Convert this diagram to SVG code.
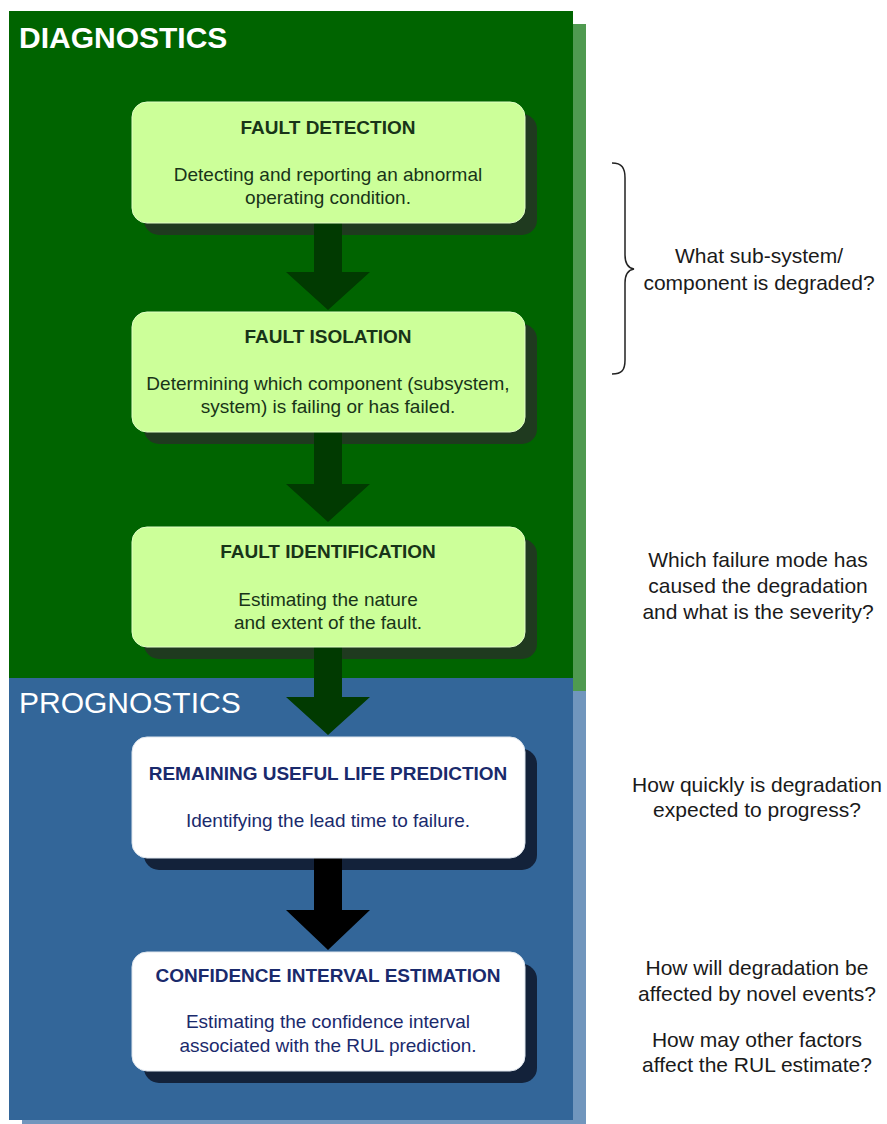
<svg xmlns="http://www.w3.org/2000/svg" width="887" height="1124" viewBox="0 0 887 1124">
<style>
.t{font-family:"Liberation Sans",Arial,sans-serif;text-anchor:middle}
.gt{fill:#183418;font-size:19px}
.bt{fill:#1a2a6c;font-size:19px}
.b{font-weight:bold}
.side{font-family:"Liberation Sans",Arial,sans-serif;text-anchor:middle;font-size:21px;fill:#1a1a1a}
.gbox{fill:#ccff99;stroke:#e2ffc6;stroke-width:1}
.gsh{fill:#1f3a1f}
.wbox{fill:#ffffff;stroke:#dfe6ee;stroke-width:1}
.bsh{fill:#13223a}
.ga{fill:#013a01}
.ka{fill:#000000}
</style>
<rect width="887" height="1124" fill="#ffffff"/>
<g id="panels">
<rect x="22" y="24" width="564" height="667" fill="#4f9a50"/>
<rect x="22" y="691" width="564" height="442" fill="#7196bd"/>
<rect x="9" y="11" width="564" height="667" fill="#006400"/>
<rect x="9" y="678" width="564" height="442" fill="#336699"/>
<text x="19" y="48" font-family="Liberation Sans,Arial,sans-serif" font-size="30" font-weight="bold" fill="#ffffff">DIAGNOSTICS</text>
<text x="19" y="713" font-family="Liberation Sans,Arial,sans-serif" font-size="30" fill="#ffffff">PROGNOSTICS</text>
</g>
<g id="shadows">
<rect class="gsh" x="144" y="114" width="393" height="121" rx="15"/>
<rect class="gsh" x="144" y="324" width="393" height="120" rx="15"/>
<rect class="gsh" x="144" y="539" width="393" height="120" rx="15"/>
<rect class="bsh" x="144" y="749" width="393" height="121" rx="15"/>
<rect class="bsh" x="144" y="964" width="393" height="119" rx="15"/>
</g>
<g id="connectors">
<path class="ga" d="M314,222 H342 V272 H370 L328,310 L286,272 H314 Z"/>
<path class="ga" d="M314,432 H342 V484 H370 L328,522 L286,484 H314 Z"/>
<path class="ga" d="M314,647 H342 V697 H370 L328,735 L286,697 H314 Z"/>
<path class="ka" d="M314,858 H342 V910 H370 L328,950 L286,910 H314 Z"/>
</g>
<g id="fault-detection">
<rect class="gbox" x="132" y="102" width="393" height="121" rx="15"/>
<text class="t gt b" x="328" y="134">FAULT DETECTION</text>
<text class="t gt" x="328" y="181">Detecting and reporting an abnormal</text>
<text class="t gt" x="328" y="204">operating condition.</text>
</g>
<g id="fault-isolation">
<rect class="gbox" x="132" y="312" width="393" height="120" rx="15"/>
<text class="t gt b" x="328" y="343">FAULT ISOLATION</text>
<text class="t gt" x="328" y="390">Determining which component (subsystem,</text>
<text class="t gt" x="328" y="413">system) is failing or has failed.</text>
</g>
<g id="fault-identification">
<rect class="gbox" x="132" y="527" width="393" height="120" rx="15"/>
<text class="t gt b" x="328" y="558">FAULT IDENTIFICATION</text>
<text class="t gt" x="328" y="606">Estimating the nature</text>
<text class="t gt" x="328" y="629">and extent of the fault.</text>
</g>
<g id="rul-prediction">
<rect class="wbox" x="132" y="737" width="393" height="121" rx="15"/>
<text class="t bt b" x="328" y="780">REMAINING USEFUL LIFE PREDICTION</text>
<text class="t bt" x="328" y="827">Identifying the lead time to failure.</text>
</g>
<g id="confidence-interval">
<rect class="wbox" x="132" y="952" width="393" height="119" rx="15"/>
<text class="t bt b" x="328" y="982">CONFIDENCE INTERVAL ESTIMATION</text>
<text class="t bt" x="328" y="1028">Estimating the confidence interval</text>
<text class="t bt" x="328" y="1052">associated with the RUL prediction.</text>
</g>
<g id="brace">
<path d="M612,163 C622,163 625,168 625,178 V255 C625,264 628,268 634,269 C628,270 625,274 625,283 V360 C625,370 622,374 612,374" fill="none" stroke="#222222" stroke-width="1.5"/>
</g>
<g id="questions">
<text class="side" x="759" y="263">What sub-system/</text>
<text class="side" x="759" y="290">component is degraded?</text>
<text class="side" x="758" y="567">Which failure mode has</text>
<text class="side" x="758" y="593">caused the degradation</text>
<text class="side" x="758" y="619">and what is the severity?</text>
<text class="side" x="757" y="792">How quickly is degradation</text>
<text class="side" x="757" y="817">expected to progress?</text>
<text class="side" x="757" y="975">How will degradation be</text>
<text class="side" x="757" y="1001">affected by novel events?</text>
<text class="side" x="757" y="1047">How may other factors</text>
<text class="side" x="757" y="1072">affect the RUL estimate?</text>
</g>
</svg>
